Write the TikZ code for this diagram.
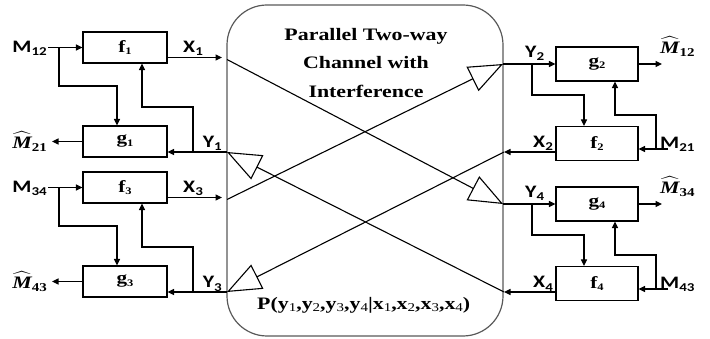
\documentclass[tikz,border=0pt]{standalone}
\usepackage{amsmath}
\usepackage{fontspec}
\usepackage{tikz}
\usetikzlibrary{arrows.meta,calc}
\newfontfamily\sigfont{Carlito}[FakeStretch=1.25]
\newfontfamily\serfont{Liberation Serif}[FakeStretch=1.25]
\tikzset{
  twbox/.style={
    draw=black, line width=1.1pt, minimum width=84pt, minimum height=31pt,
    inner sep=0pt, font=\serfont\bfseries\fontsize{17}{17}\selectfont
  },
  twboxr/.style={twbox, minimum width=82pt, minimum height=34pt},
  twchan/.style={
    draw=black!65, line width=1.2pt, rounded corners=40pt,
    minimum width=276pt, minimum height=331pt, inner sep=0pt
  },
  twedge/.style={-{Triangle[length=6.5pt,width=6pt]},line width=1.1pt},
  twline/.style={-{Triangle[open,fill=white,length=34pt,width=27pt]},line width=1.1pt},
  twsig/.style={inner sep=0pt,font=\sigfont\bfseries\fontsize{17.5}{17.5}\selectfont},
  twhat/.style={inner sep=0pt,font=\fontsize{17.5}{17.5}\selectfont},
  twtitle/.style={align=center,inner sep=0pt,font=\serfont\bfseries\fontsize{17.5}{28.3}\selectfont}
}
\newcommand\sig[2]{#1\raisebox{-3pt}{\fontsize{12}{12}\selectfont #2}}
\newcommand\blab[2]{#1\raisebox{-2.5pt}{\fontsize{10}{10}\selectfont #2}}
\newcommand\hatm[1]{$\widehat{\hbox{\serfont\bfseries\itshape M}}$\raisebox{-3pt}{\serfont\bfseries\fontsize{12}{12}\selectfont #1}}
\newcommand\pvar[2]{#1\raisebox{-2.5pt}{\fontsize{12}{12}\selectfont\mdseries #2}}

\begin{document}
\begin{tikzpicture}[x=1pt,y=-1pt]
\useasboundingbox (0,0) rectangle (710,339);
% the channel in the middle
\node[twchan] (ch) at (365,170.5) {};
\node[twtitle] (title) at (366,63) {Parallel Two-way\\Channel with\\Interference};
\node[twtitle,anchor=base west] (pxy) at (257,309)
  {P(\pvar{y}{1},\pvar{y}{2},\pvar{y}{3},\pvar{y}{4}|\pvar{x}{1},\pvar{x}{2},\pvar{x}{3},\pvar{x}{4})};

% Left: users 1 and 3
\begin{scope}
  \node[twbox] (f1) at (125,47.5) {\blab{f}{1}};
  \node[twbox] (g1) at (125,141.5) {\blab{g}{1}};
  \node[twsig,anchor=base east] (m12) at (47,53) {\sig{M}{12}};
  \node[twsig,anchor=base west] (x1) at (183,52.5) {\sig{X}{1}};
  \node[twsig,anchor=base east] (y1) at (222,148) {\sig{Y}{1}};
  \node[twhat,anchor=base east] (mh21) at (47,149) {\hatm{21}};
  \coordinate (m12o) at (48,47.5);
  \coordinate (m12s) at (59,47.5);
  \coordinate (m12t) at (117,86);
  \coordinate (x1t) at (222,57.5);
  \coordinate (x1c) at (227,59.5);
  \coordinate (y1c) at (227,152);
  \coordinate (y1s) at (193,152);
  \coordinate (y1t) at (142,107);
  \coordinate (mh21t) at (52,141.5);
  \draw[twedge] (m12o) -- (f1.west);
  \draw[twedge] (m12s) |- (m12t) -- (m12t |- g1.north);
  \draw[twedge] (f1.east |- x1t) -- (x1t);
  \draw[twedge] (y1c) -- (y1c -| g1.east);
  \draw[twedge] (y1s) |- (y1t) -- (y1t |- f1.south);
  \draw[twedge] (g1.west) -- (mh21t);

  \node[twbox] (f3) at (125,187.5) {\blab{f}{3}};
  \node[twbox] (g3) at (125,281.5) {\blab{g}{3}};
  \node[twsig,anchor=base east] (m34) at (47,193) {\sig{M}{34}};
  \node[twsig,anchor=base west] (x3) at (183,192.5) {\sig{X}{3}};
  \node[twsig,anchor=base east] (y3) at (222,288) {\sig{Y}{3}};
  \node[twhat,anchor=base east] (mh43) at (47,289) {\hatm{43}};
  \coordinate (m34o) at (48,187.5);
  \coordinate (m34s) at (59,187.5);
  \coordinate (m34t) at (117,226);
  \coordinate (x3t) at (222,197.5);
  \coordinate (x3c) at (227,199.5);
  \coordinate (y3c) at (227,292);
  \coordinate (y3s) at (193,292);
  \coordinate (y3t) at (142,247);
  \coordinate (mh43t) at (52,281.5);
  \draw[twedge] (m34o) -- (f3.west);
  \draw[twedge] (m34s) |- (m34t) -- (m34t |- g3.north);
  \draw[twedge] (f3.east |- x3t) -- (x3t);
  \draw[twedge] (y3c) -- (y3c -| g3.east);
  \draw[twedge] (y3s) |- (y3t) -- (y3t |- f3.south);
  \draw[twedge] (g3.west) -- (mh43t);
\end{scope}

% Right: users 2 and 4
\begin{scope}
  \node[twboxr] (g2) at (597,64) {\blab{g}{2}};
  \node[twboxr] (f2) at (597,143.5) {\blab{f}{2}};
  \node[twsig,anchor=base west] (y2) at (525,58) {\sig{Y}{2}};
  \node[twsig,anchor=base west] (x2) at (533,148) {\sig{X}{2}};
  \node[twsig,anchor=base west] (m21) at (660,149) {\sig{M}{21}};
  \node[twhat,anchor=base west] (mh12) at (660,54) {\hatm{12}};
  \coordinate (y2c) at (503,64);
  \coordinate (y2s) at (532,64);
  \coordinate (y2t) at (584,95);
  \coordinate (mh12t) at (662,64);
  \coordinate (m21o) at (668,149);
  \coordinate (m21s) at (656,149);
  \coordinate (m21t) at (615,115);
  \coordinate (x2c) at (504,152);
  \draw[twedge] (y2c) -- (g2.west);
  \draw[twedge] (y2s) |- (y2t) -- (y2t |- f2.north);
  \draw[twedge] (g2.east) -- (mh12t);
  \draw[twedge] (m21o) -- (m21o -| f2.east);
  \draw[twedge] (m21s) |- (m21t) -- (m21t |- g2.south);
  \draw[twedge] (x2c -| f2.west) -- (x2c);

  \node[twboxr] (g4) at (597,204) {\blab{g}{4}};
  \node[twboxr] (f4) at (597,283.5) {\blab{f}{4}};
  \node[twsig,anchor=base west] (y4) at (525,198) {\sig{Y}{4}};
  \node[twsig,anchor=base west] (x4) at (533,288) {\sig{X}{4}};
  \node[twsig,anchor=base west] (m43) at (660,289) {\sig{M}{43}};
  \node[twhat,anchor=base west] (mh34) at (660,194) {\hatm{34}};
  \coordinate (y4c) at (503,204);
  \coordinate (y4s) at (532,204);
  \coordinate (y4t) at (584,235);
  \coordinate (mh34t) at (662,204);
  \coordinate (m43o) at (668,289);
  \coordinate (m43s) at (656,289);
  \coordinate (m43t) at (615,255);
  \coordinate (x4c) at (504,292);
  \draw[twedge] (y4c) -- (g4.west);
  \draw[twedge] (y4s) |- (y4t) -- (y4t |- f4.north);
  \draw[twedge] (g4.east) -- (mh34t);
  \draw[twedge] (m43o) -- (m43o -| f4.east);
  \draw[twedge] (m43s) |- (m43t) -- (m43t |- g4.south);
  \draw[twedge] (x4c -| f4.west) -- (x4c);
\end{scope}

% crossing paths through the channel
\draw[twline] (x1c) -- (y4c);
\draw[twline] (x3c) -- (y2c);
\draw[twline] (x2c) -- (y3c);
\draw[twline] (x4c) -- (y1c);
\end{tikzpicture}
\end{document}
